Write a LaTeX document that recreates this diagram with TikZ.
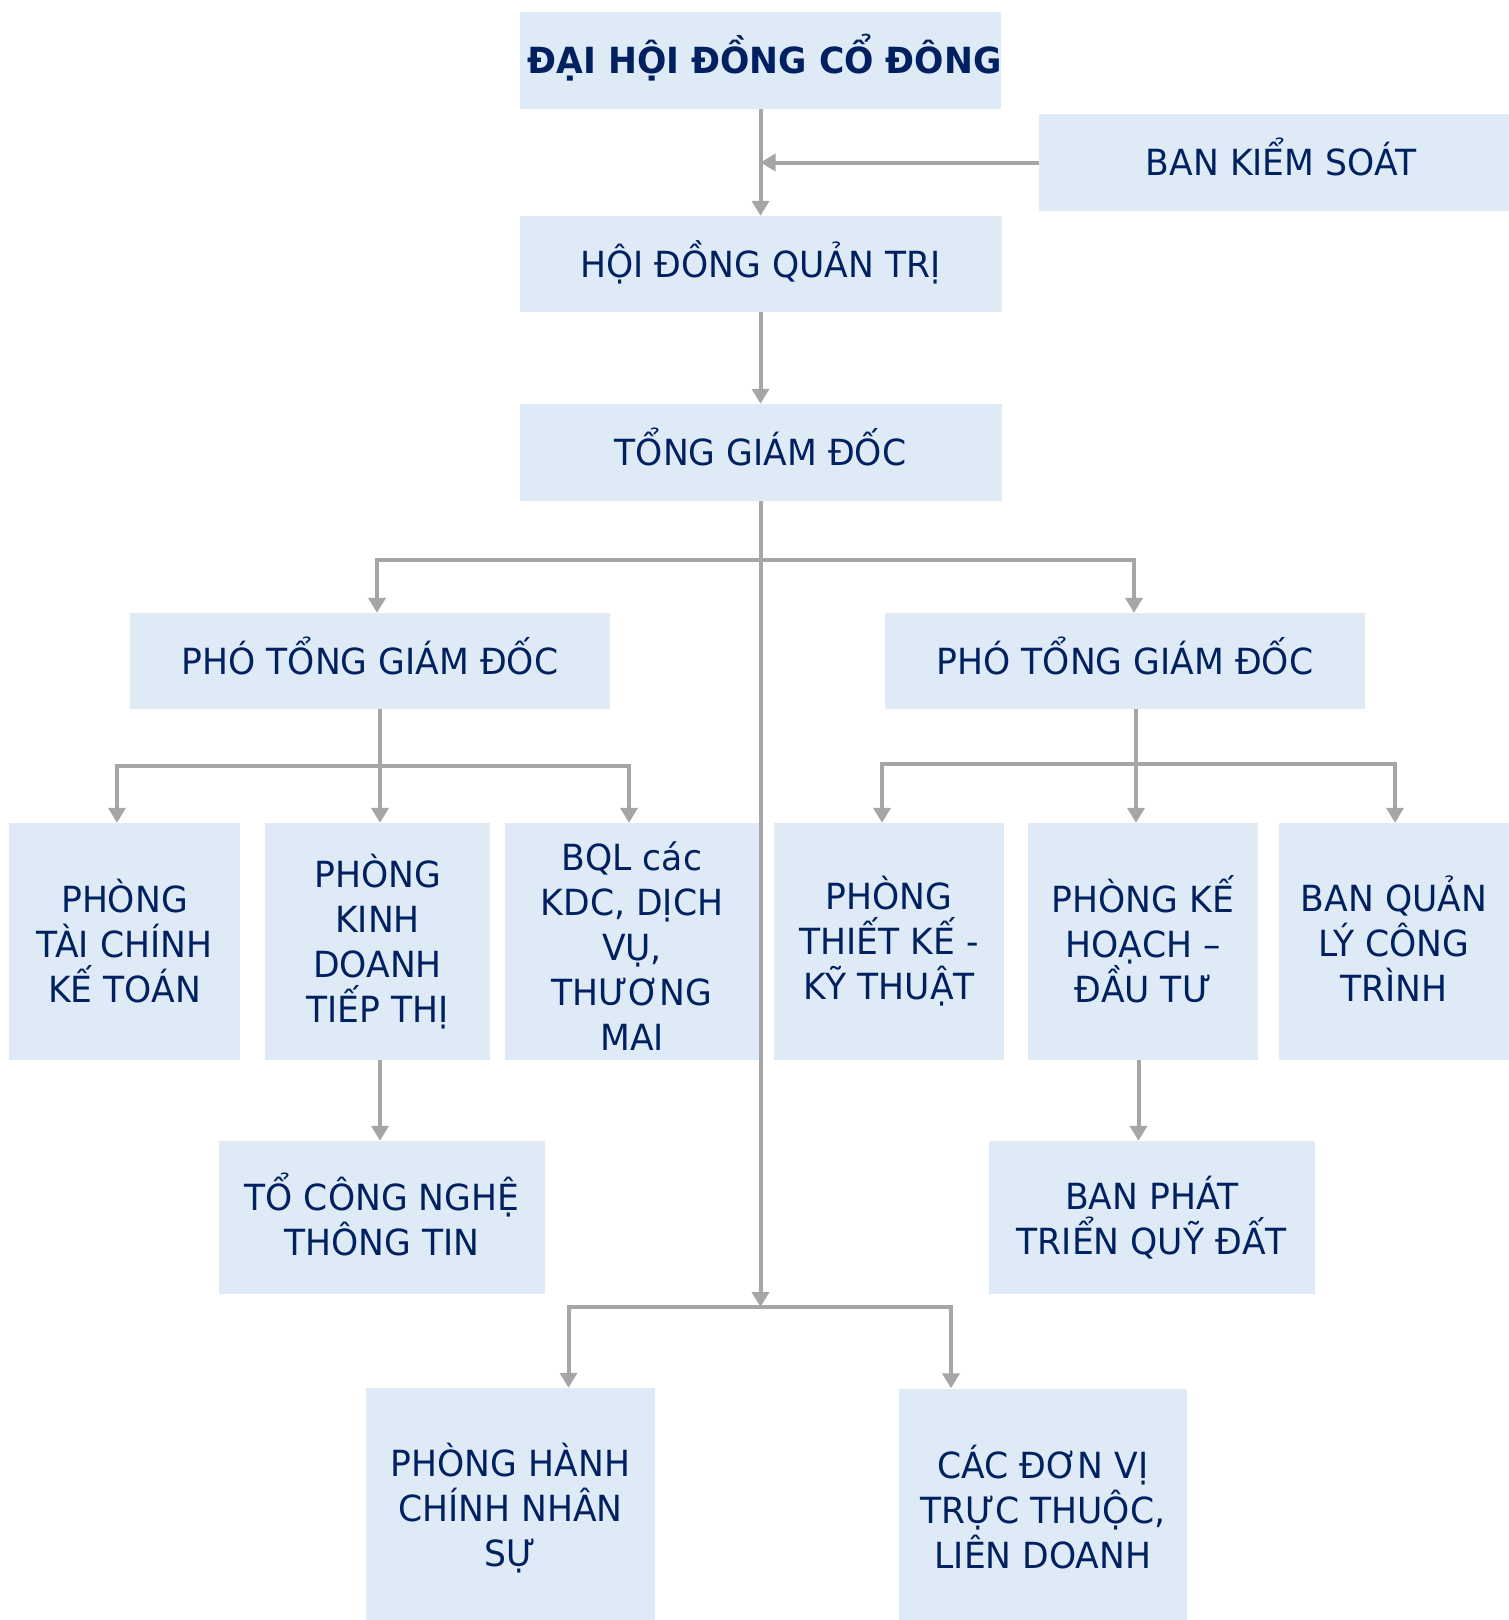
\documentclass[tikz,border=0pt]{standalone}
\usepackage{fontspec}
\setmainfont{DejaVu Sans}[FakeStretch=0.96]
\usetikzlibrary{arrows.meta}
\definecolor{boxfill}{HTML}{DEEAF6}
\definecolor{navy}{HTML}{002060}
\definecolor{conngray}{HTML}{A6A6A6}
\tikzset{
  box/.style={fill=boxfill, text=navy, inner sep=0pt, align=center,
    font=\fontsize{36}{45}\selectfont},
  oneline/.style={box, text height=26.2pt, text depth=0pt},
  wline/.style={draw=conngray, line width=4pt},
  conn/.style={wline, -{Triangle[width=17pt,length=15pt]}}
}
\begin{document}
\begin{tikzpicture}[x=1pt,y=-1pt]
\useasboundingbox (0,0) rectangle (1509,1620);
\clip (0,0) rectangle (1509,1620);
% boxes
\node[oneline, minimum width=481pt, minimum height=97pt] (dh) at (760.5,60.5) {\hspace*{8pt}\bfseries ĐẠI HỘI ĐỒNG CỔ ĐÔNG};
\node[oneline, minimum width=484pt, minimum height=97pt] (bks) at (1281,162.5) {BAN KIỂM SOÁT};
\node[oneline, minimum width=482pt, minimum height=96pt] (hd) at (760.5,264) {HỘI ĐỒNG QUẢN TRỊ};
\node[oneline, minimum width=482pt, minimum height=97pt] (tgd) at (760.5,452.5) {TỔNG GIÁM ĐỐC};
\node[oneline, minimum width=480pt, minimum height=96pt] (p1) at (370,661) {PHÓ TỔNG GIÁM ĐỐC};
\node[oneline, minimum width=480pt, minimum height=96pt] (p2) at (1125,661) {PHÓ TỔNG GIÁM ĐỐC};
\node[box, minimum width=231pt, minimum height=237pt] (b1) at (124.5,941.5) {PHÒNG\\TÀI CHÍNH\\KẾ TOÁN};
\node[box, minimum width=225pt, minimum height=237pt] (b2) at (377.5,941.5) {PHÒNG\\KINH\\DOANH\\TIẾP THỊ};
\node[box, minimum width=254pt, minimum height=237pt] (b3) at (632,941.5) {\rule{0pt}{37pt}BQL các\\KDC, DỊCH\\VỤ,\\THƯƠNG\\MAI};
\node[box, minimum width=230pt, minimum height=237pt] (b4) at (889,941.5) {PHÒNG\\THIẾT KẾ -\\KỸ THUẬT};
\node[box, minimum width=230pt, minimum height=237pt] (b5) at (1143,941.5) {PHÒNG KẾ\\HOẠCH –\\ĐẦU TƯ\rule[-6pt]{0pt}{0pt}};
\node[box, minimum width=230pt, minimum height=237pt] (b6) at (1394,941.5) {BAN QUẢN\\LÝ CÔNG\\TRÌNH\rule[-6pt]{0pt}{0pt}};
\node[box, minimum width=326pt, minimum height=153pt] (tc) at (382,1217.5) {TỔ CÔNG NGHỆ\\THÔNG TIN\rule[-6pt]{0pt}{0pt}};
\node[box, minimum width=326pt, minimum height=153pt] (bp) at (1151.75,1217.5) {BAN PHÁT\\TRIỂN QUỸ ĐẤT};
\node[box, minimum width=289pt, minimum height=240pt] (ph) at (510.5,1508) {PHÒNG HÀNH\\CHÍNH NHÂN\\SỰ};
\node[box, minimum width=288pt, minimum height=240pt] (cd) at (1043,1508.5) {CÁC ĐƠN VỊ\\TRỰC THUỘC,\\LIÊN DOANH\rule[-4pt]{0pt}{0pt}};
% junctions
\coordinate (jt) at (760.5,560);
\coordinate (j1) at (380,766);
\coordinate (j2) at (1136,764);
\coordinate (jb) at (760.5,1307);
% connectors
\draw[conn] (dh.south) -- (dh.south |- hd.north);
\draw[conn] (bks.west) -- (bks.west -| dh.south);
\draw[conn] (hd.south) -- (tgd.north);
\draw[conn] (jt) -| ([xshift=7pt]p1.north);
\draw[conn] (jt) -| ([xshift=9pt]p2.north);
\draw[wline] (p1.south -| j1) -- (j1);
\draw[conn] (j1) -| ([xshift=-7.5pt]b1.north);
\draw[conn] (j1) -- (j1 |- b2.north);
\draw[conn] (j1) -| ([xshift=-3pt]b3.north);
\draw[wline] (p2.south -| j2) -- (j2);
\draw[conn] (j2) -| ([xshift=-7pt]b4.north);
\draw[conn] (j2) -- (j2 |- b5.north);
\draw[conn] (j2) -| ([xshift=1pt]b6.north);
\draw[conn] (b2.south -| j1) -- (j1 |- tc.north);
\draw[conn] ([xshift=-4.5pt]b5.south) -- ([xshift=-4.5pt]b5.south |- bp.north);
\draw[conn] (tgd.south) -- (jb);
\draw[conn] (jb) -| ([xshift=58pt]ph.north);
\draw[conn] (jb) -| ([xshift=-92pt]cd.north);
\end{tikzpicture}
\end{document}
